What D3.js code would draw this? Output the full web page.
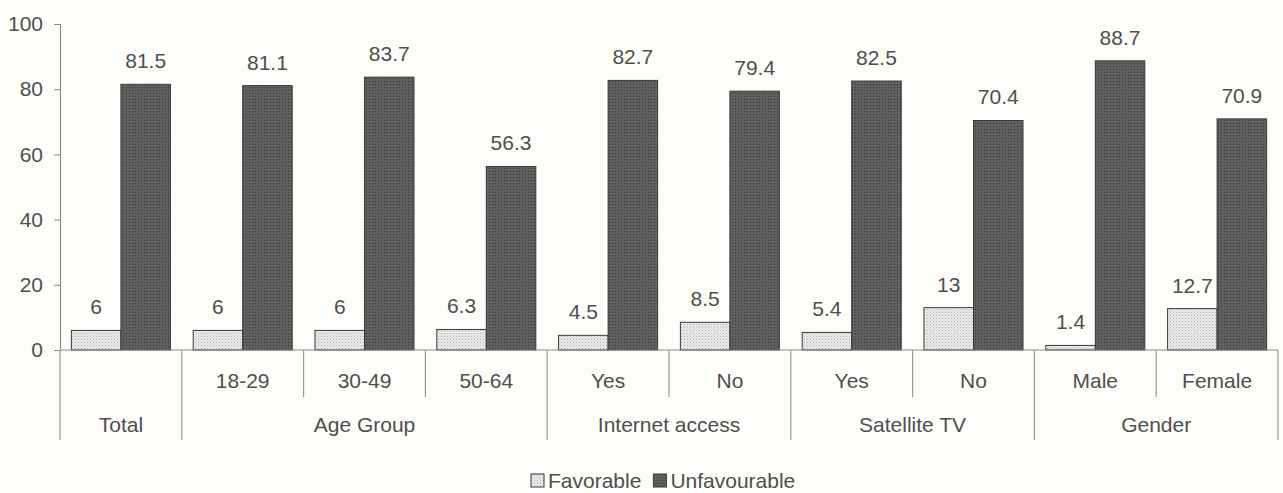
<!DOCTYPE html>
<html>
<head>
<meta charset="utf-8">
<script src="https://cdn.jsdelivr.net/npm/d3@7"></script>
<style>
  html, body { margin: 0; padding: 0; background: #fdfdfa; }
  svg { display: block; }
  text { font-family: "Liberation Sans", Arial, sans-serif; fill: #4f4f4f; }
</style>
</head>
<body>
<svg id="chart" width="1283" height="493"></svg>
<script>
// Category labels (first row) and the group each one belongs to
const categories = ["Total", "18-29", "30-49", "50-64", "Yes", "No", "Yes", "No", "Male", "Female"];
const groups = [
  { name: "Total", span: 1 },
  { name: "Age Group", span: 3 },
  { name: "Internet access", span: 2 },
  { name: "Satellite TV", span: 2 },
  { name: "Gender", span: 2 }
];
const favorable = [6, 6, 6, 6.3, 4.5, 8.5, 5.4, 13, 1.4, 12.7];
const unfavourable = [81.5, 81.1, 83.7, 56.3, 82.7, 79.4, 82.5, 70.4, 88.7, 70.9];
const seriesNames = ["Favorable", "Unfavourable"];
const yTicks = [0, 20, 40, 60, 80, 100];

const svg = d3.select("#chart");
const plotLeft = 60, plotRight = 1278, plotTop = 24, plotBottom = 350;
const fontSize = 21;

// Stippled fills for the two series
const defs = svg.append("defs");
const light = defs.append("pattern").attr("id", "fav").attr("patternUnits", "userSpaceOnUse")
  .attr("width", 3).attr("height", 3);
light.append("rect").attr("width", 3).attr("height", 3).attr("fill", "#ebebeb");
light.append("rect").attr("x", 0).attr("y", 0).attr("width", 1).attr("height", 1).attr("fill", "#b0b0b0");
light.append("rect").attr("x", 1.5).attr("y", 1.5).attr("width", 1).attr("height", 1).attr("fill", "#c4c4c4");
const dark = defs.append("pattern").attr("id", "unfav").attr("patternUnits", "userSpaceOnUse")
  .attr("width", 3).attr("height", 3);
dark.append("rect").attr("width", 3).attr("height", 3).attr("fill", "#5c5c5c");
dark.append("rect").attr("x", 0).attr("y", 0).attr("width", 1).attr("height", 1).attr("fill", "#404040");
dark.append("rect").attr("x", 1.5).attr("y", 1.5).attr("width", 1).attr("height", 1).attr("fill", "#707070");
const fills = ["url(#fav)", "url(#unfav)"];

const idx = categories.map((_, i) => i);
const x = d3.scaleBand().domain(idx).range([plotLeft, plotRight]).padding(0);
const xInner = d3.scaleBand().domain([0, 1]).range([0, x.bandwidth()]).paddingOuter(0.23).paddingInner(0);
const y = d3.scaleLinear().domain([0, 100]).range([plotBottom, plotTop]);

// Y axis
const yAxis = svg.append("g").attr("transform", `translate(${plotLeft},0)`)
  .call(d3.axisLeft(y).tickValues(yTicks).tickSize(6).tickPadding(11));
yAxis.select(".domain").attr("stroke", "#8a8a8a").attr("stroke-width", 1.2);
yAxis.selectAll(".tick line").attr("stroke", "#8a8a8a");
yAxis.selectAll(".tick text").attr("font-size", fontSize).attr("fill", "#4f4f4f")
  .style("font-family", '"Liberation Sans", Arial, sans-serif');

// Bars and their value labels
const series = [favorable, unfavourable];
series.forEach((vals, s) => {
  svg.append("g").selectAll("rect").data(vals).join("rect")
    .attr("x", (d, i) => x(i) + xInner(s))
    .attr("y", d => y(d))
    .attr("width", xInner.bandwidth())
    .attr("height", d => y(0) - y(d))
    .attr("fill", fills[s])
    .attr("stroke", "#3a3a3a")
    .attr("stroke-width", 1);
  svg.append("g").selectAll("text").data(vals).join("text")
    .attr("x", (d, i) => x(i) + xInner(s) + xInner.bandwidth() / 2)
    .attr("y", d => y(d) - 16)
    .attr("text-anchor", "middle")
    .attr("font-size", fontSize)
    .text(d => d);
});

// X baseline
svg.append("line").attr("x1", plotLeft).attr("x2", plotRight).attr("y1", plotBottom).attr("y2", plotBottom)
  .attr("stroke", "#8a8a8a").attr("stroke-width", 1.2);

// Two-level category axis
const rowMid = 397, rowEnd = 440;
const gx = svg.append("g");
let start = 0;
const groupEdges = [0];
groups.forEach(g => { start += g.span; groupEdges.push(start); });
idx.concat([categories.length]).forEach(i => {
  const xp = i < categories.length ? x(i) : plotRight;
  const isGroupEdge = groupEdges.includes(i);
  gx.append("line").attr("x1", xp).attr("x2", xp).attr("y1", plotBottom)
    .attr("y2", isGroupEdge ? rowEnd : rowMid)
    .attr("stroke", "#9a9a9a").attr("stroke-width", 1.2);
});
categories.forEach((c, i) => {
  if (c === "Total") return;
  gx.append("text").attr("x", x(i) + x.bandwidth() / 2).attr("y", 388)
    .attr("text-anchor", "middle").attr("font-size", fontSize).text(c);
});
start = 0;
groups.forEach(g => {
  const x0 = x(start);
  const x1 = start + g.span < categories.length ? x(start + g.span) : plotRight;
  gx.append("text").attr("x", (x0 + x1) / 2).attr("y", 432)
    .attr("text-anchor", "middle").attr("font-size", fontSize).text(g.name);
  start += g.span;
});

// Legend, laid out left to right
const legend = svg.append("g").attr("transform", "translate(531,474)");
let lx = 0;
seriesNames.forEach((n, i) => {
  const g = legend.append("g").attr("transform", `translate(${lx},0)`);
  g.append("rect").attr("x", 0).attr("y", 0).attr("width", 13).attr("height", 13)
    .attr("fill", fills[i]).attr("stroke", "#3a3a3a");
  const t = g.append("text").attr("x", 17).attr("y", 14).attr("font-size", fontSize).text(n);
  lx += 17 + t.node().getComputedTextLength() + 12;
});
</script>
</body>
</html>
